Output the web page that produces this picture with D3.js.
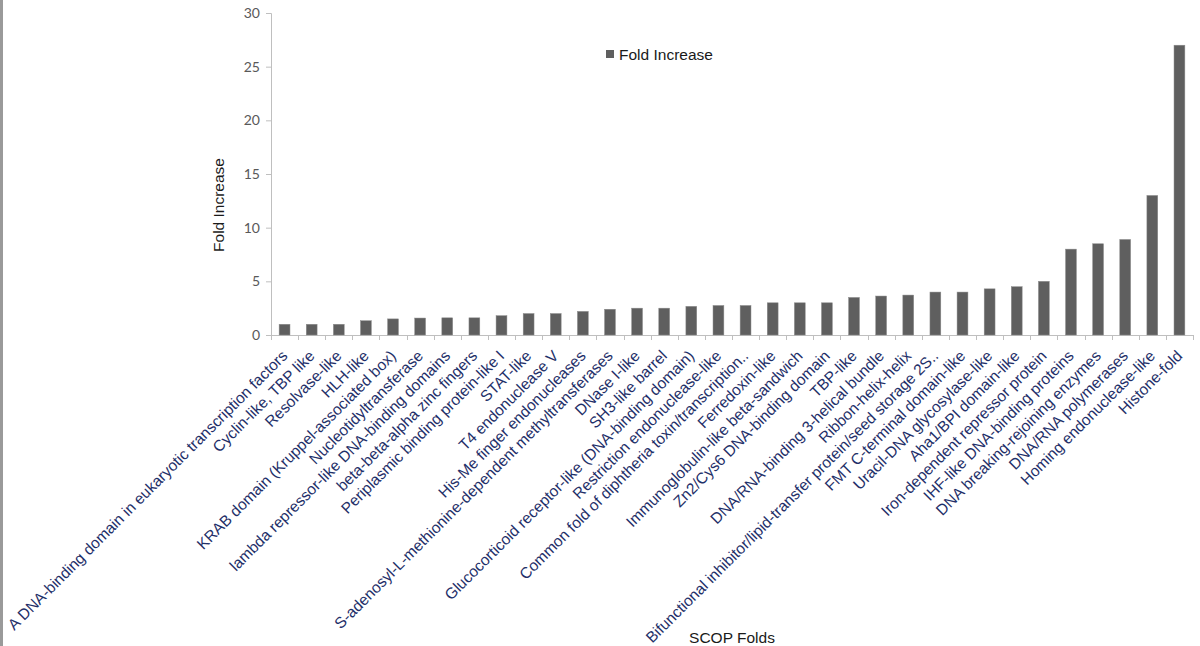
<!DOCTYPE html>
<html lang="en">
<head>
    <meta charset="UTF-8">
    <title>Fold Increase by SCOP Fold</title>
    <script src="https://d3js.org/d3.v7.min.js"></script>
    <style>
        body { margin: 0; background: #fff; }
        svg { display: block; }
        .tick-label { font-family: Lato, "Open Sans", sans-serif; font-size: 14px; fill: #595959; }
        .cat-label { font-family: "Liberation Sans", Arial, sans-serif; font-size: 15.5px; fill: #1f3069; }
        .title { font-family: "Liberation Sans", Arial, sans-serif; font-size: 15.5px; fill: #1a1a1a; }
    </style>
</head>
<body>
<div id="chart"></div>
<script>
    const folds = [
        "A DNA-binding domain in eukaryotic transcription factors",
        "Cyclin-like, TBP like",
        "Resolvase-like",
        "HLH-like",
        "KRAB domain (Kruppel-associated box)",
        "Nucleotidyltransferase",
        "lambda repressor-like DNA-binding domains",
        "beta-beta-alpha zinc fingers",
        "Periplasmic binding protein-like I",
        "STAT-like",
        "T4 endonuclease V",
        "His-Me finger endonucleases",
        "S-adenosyl-L-methionine-dependent methyltransferases",
        "DNase I-like",
        "SH3-like barrel",
        "Glucocorticoid receptor-like (DNA-binding domain)",
        "Restriction endonuclease-like",
        "Common fold of diphtheria toxin/transcription..",
        "Ferredoxin-like",
        "Immunoglobulin-like beta-sandwich",
        "Zn2/Cys6 DNA-binding domain",
        "TBP-like",
        "DNA/RNA-binding 3-helical bundle",
        "Ribbon-helix-helix",
        "Bifunctional inhibitor/lipid-transfer protein/seed storage 2S..",
        "FMT C-terminal domain-like",
        "Uracil-DNA glycosylase-like",
        "Aha1/BPI domain-like",
        "Iron-dependent repressor protein",
        "IHF-like DNA-binding proteins",
        "DNA breaking-rejoining enzymes",
        "DNA/RNA polymerases",
        "Homing endonuclease-like",
        "Histone-fold"
    ];

    const foldIncrease = [
        1.0, 1.0, 1.0, 1.33, 1.5, 1.58, 1.6, 1.6, 1.8, 2.0, 2.0, 2.2,
        2.4, 2.5, 2.5, 2.67, 2.75, 2.75, 3.0, 3.0, 3.0, 3.5, 3.63, 3.72,
        4.0, 4.0, 4.3, 4.5, 5.0, 8.0, 8.5, 8.9, 13.0, 27.0
    ];

    const yTicks = [0, 5, 10, 15, 20, 25, 30];

    const W = 1200, H = 646;
    const plotL = 271, plotR = 1193, plotT = 13, plotB = 335;

    const svg = d3.select("#chart").append("svg")
        .attr("width", W)
        .attr("height", H);

    // grey frame edge on the left
    svg.append("rect").attr("x", 0).attr("y", 0).attr("width", 3).attr("height", H).attr("fill", "#9a9a9a");

    const x = d3.scaleBand().domain(folds).range([plotL, plotR]).paddingInner(0.6).paddingOuter(0.3);
    const xb = d3.scaleBand().domain(folds).range([plotL, plotR]).padding(0);
    const y = d3.scaleLinear().domain([0, 30]).range([plotB, plotT]);

    // y axis
    const yAxis = svg.append("g")
        .attr("transform", `translate(${plotL},0)`)
        .call(d3.axisLeft(y).tickValues(yTicks).tickSize(5).tickPadding(6));
    yAxis.select(".domain").attr("stroke", "#bfbfbf");
    yAxis.selectAll(".tick line").attr("stroke", "#bfbfbf");
    yAxis.selectAll(".tick text").attr("class", "tick-label");
    yAxis.attr("font-family", null).attr("font-size", null);

    // x axis: line + ticks at category boundaries
    svg.append("line")
        .attr("x1", plotL).attr("x2", plotR)
        .attr("y1", plotB + 0.5).attr("y2", plotB + 0.5)
        .attr("stroke", "#bfbfbf");
    const bounds = folds.map(f => xb(f)).concat([plotR]);
    svg.append("g").selectAll("line").data(bounds).join("line")
        .attr("x1", d => Math.round(d) + 0.5).attr("x2", d => Math.round(d) + 0.5)
        .attr("y1", plotB).attr("y2", plotB + 5)
        .attr("stroke", "#bfbfbf");

    // bars
    svg.append("g").selectAll("rect").data(foldIncrease).join("rect")
        .attr("x", (d, i) => x(folds[i]))
        .attr("width", x.bandwidth())
        .attr("y", d => y(d))
        .attr("height", d => y(0) - y(d))
        .attr("fill", "#5f5f5f")
        .attr("stroke", "#8c8c8c")
        .attr("stroke-width", 0.5);

    // category labels
    svg.append("g").selectAll("text").data(folds).join("text")
        .attr("class", "cat-label")
        .attr("transform", d => `translate(${xb(d) + xb.bandwidth() / 2},353) rotate(-45)`)
        .attr("text-anchor", "end")
        .attr("dy", "0.35em")
        .text(d => d);

    // axis titles
    svg.append("text")
        .attr("class", "title")
        .attr("transform", "translate(224,205) rotate(-90)")
        .attr("text-anchor", "middle")
        .text("Fold Increase");

    svg.append("text")
        .attr("class", "title")
        .attr("x", (plotL + plotR) / 2)
        .attr("y", 643)
        .attr("text-anchor", "middle")
        .text("SCOP Folds");

    // legend
    const legend = svg.append("g").attr("transform", "translate(606,50)");
    legend.append("rect").attr("width", 8).attr("height", 8).attr("fill", "#5f5f5f");
    legend.append("text")
        .attr("class", "title")
        .attr("x", 13)
        .attr("y", 10)
        .text("Fold Increase");
</script>
</body>
</html>
